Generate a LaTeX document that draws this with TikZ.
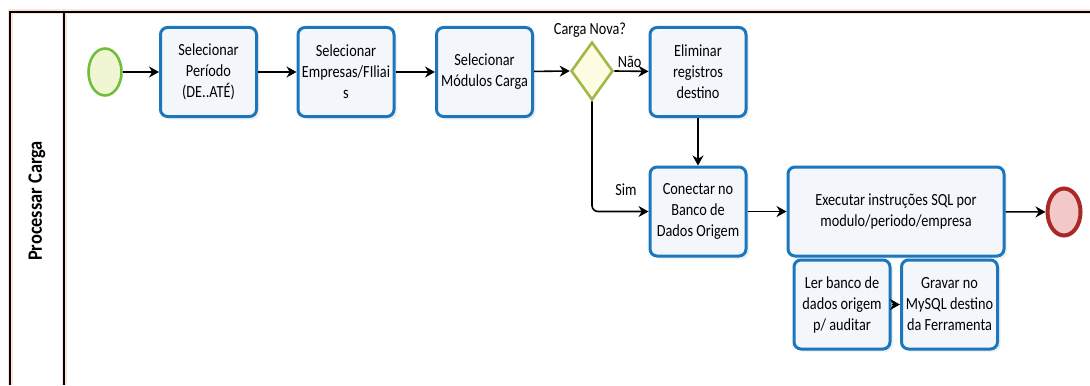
\documentclass[tikz,border=0pt]{standalone}
\usepackage{fontspec}
\setmainfont{Carlito}[FakeStretch=0.84]
\newfontfamily\lanefont{Carlito}[FakeStretch=0.9]
\usetikzlibrary{arrows.meta,shapes.geometric,shadows}
\definecolor{taskblue}{RGB}{28,118,188}
\definecolor{taskfill}{RGB}{243,246,251}
\definecolor{startgreen}{RGB}{112,190,60}
\definecolor{startfill}{RGB}{240,246,210}
\definecolor{gwgreen}{RGB}{160,185,70}
\definecolor{gwfill}{RGB}{253,251,226}
\definecolor{endred}{RGB}{170,40,40}
\definecolor{endfill}{RGB}{242,200,200}
\definecolor{glow}{RGB}{250,200,180}
\tikzset{
  task/.style={draw=taskblue,fill=taskfill,line width=1.5pt,rounded corners=3.5pt,
    minimum width=48pt,minimum height=44.5pt,align=center,inner sep=1pt,
    drop shadow={opacity=0.12,shadow xshift=1.5pt,shadow yshift=-1.5pt}},
  gateway/.style={diamond,draw=gwgreen,fill=gwfill,line width=1.3pt,aspect=0.72,
    minimum width=21pt,minimum height=29pt,inner sep=0pt},
  startev/.style={ellipse,draw=startgreen,fill=startfill,line width=1.3pt,
    minimum width=16.5pt,minimum height=23.5pt,inner sep=0pt},
  endev/.style={ellipse,draw=endred,fill=endfill,line width=2pt,
    minimum width=16.5pt,minimum height=23.5pt,inner sep=0pt},
  flow/.style={-{Stealth[length=5pt,width=5.5pt]},line width=0.8pt},
  lane/.style={line width=0.7pt}
}
\begin{document}
\begin{tikzpicture}[x=0.5pt,y=-0.5pt,font=\fontsize{8.5}{10.5}\selectfont]
\useasboundingbox (0,0) rectangle (1090,385);
\draw[glow,line width=2.5pt,opacity=0.5] (1090,12) -- (10,12) -- (10,385) (64,12) -- (64,385);
\draw[lane] (1090,12) -- (10,12) -- (10,385);
\draw[lane] (64,12) -- (64,385);
\node[rotate=90,font=\lanefont\fontsize{10.2}{11}\selectfont\bfseries] (lbl) at (37,201) {Processar Carga};
\node[startev] (start) at (105,72) {};
\node[task] (per) at (208.5,72) {Selecionar\\Período\\(DE..ATÉ)};
\node[task] (emp) at (346,72) {Selecionar\\Empresas/FIliai\\s};
\node[task] (mod) at (484.5,72) {Selecionar\\Módulos Carga};
\node[gateway] (gw) at (592,71) {};
\node (gwlbl) at (590,30) {Carga Nova?};
\node[task] (elim) at (698,72) {Eliminar\\registros\\destino};
\node[task] (con) at (698,211.5) {Conectar no\\Banco de\\Dados Origem};
\node[task,minimum width=108pt] (exe) at (896,211.5) {Executar instruções SQL por\\modulo/periodo/empresa};
\node[endev] (fim) at (1064,212) {};
\node[task] (ler) at (842,304.5) {Ler banco de\\dados origem\\p/ auditar};
\node[task] (grv) at (949.5,304.5) {Gravar no\\MySQL destino\\da Ferramenta};
\draw[flow] (start) -- (per);
\draw[flow] (per) -- (emp);
\draw[flow] (emp) -- (mod);
\draw[flow] (mod) -- (gw.west);
\draw[flow] (gw.east) -- node[above,pos=0.45,inner sep=1.5pt] {Não} (elim);
\draw[flow,rounded corners=3pt] (gw.south) |- node[above,pos=0.8,yshift=4pt] {Sim} (con);
\draw[flow] (elim) -- (con);
\draw[flow] (con) -- (exe);
\draw[flow] (exe) -- (fim);
\draw[flow] (ler) -- (grv);
\end{tikzpicture}
\end{document}
